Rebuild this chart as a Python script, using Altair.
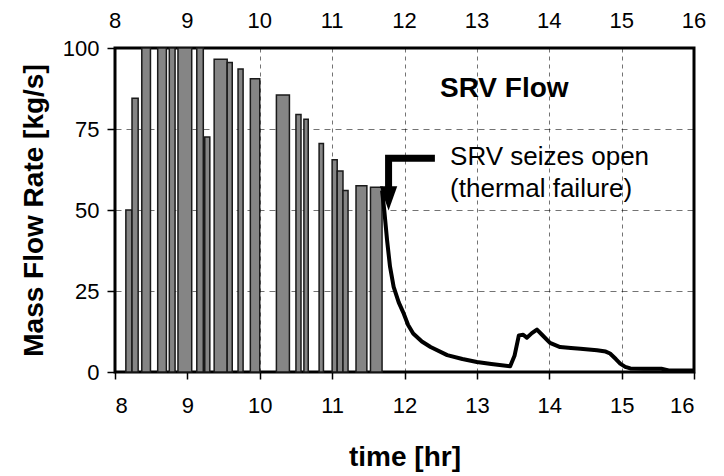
import altair as alt
import pandas as pd

# SRV cycling pulses (time in hr, flow in kg/s)
pulse_start = [8.15, 8.235, 8.37, 8.59, 8.75, 8.87, 9.13, 9.24, 9.37, 9.55, 9.70, 9.87,
               10.23, 10.50, 10.61, 10.82, 11.00, 11.07, 11.15, 11.33, 11.53]
pulse_end = [8.235, 8.32, 8.49, 8.71, 8.83, 9.06, 9.22, 9.31, 9.55, 9.62, 9.77, 10.0,
             10.41, 10.57, 10.67, 10.88, 11.07, 11.15, 11.22, 11.48, 11.69]
pulse_peak = [50, 84.5, 100, 100, 100, 100, 100, 72.5, 96.5, 95.5, 93.5, 90.5,
              85.5, 79.5, 78, 70.5, 65.5, 62, 56, 57.5, 57]

# SRV seized open: continuous flow
open_t = [11.69, 11.72, 11.76, 11.80, 11.85, 11.92, 11.99, 12.05, 12.12, 12.24, 12.36,
          12.59, 12.8, 13.0, 13.2, 13.46, 13.52, 13.58, 13.64, 13.69, 13.76, 13.83, 13.9,
          14.01, 14.15, 14.3, 14.43, 14.66, 14.78, 14.84, 14.92, 14.98, 15.05, 15.12,
          15.3, 15.55, 15.65, 16.0]
open_flow = [56, 50, 40.5, 32.5, 26.3, 21.5, 18, 14.5, 11.9, 9.4, 7.7,
             5.2, 4.0, 3.1, 2.5, 1.8, 5, 11.3, 11.5, 10.6, 12, 13.1, 11.5,
             9, 7.7, 7.4, 7.2, 6.7, 6.3, 5.7, 4, 2.6, 1.6, 1.1,
             1.0, 1.0, 0.5, 0.5]

# annotation arrow path
arrow_t = [12.42, 11.78, 11.78]
arrow_flow = [66, 66, 57]

x_ticks = [8, 9, 10, 11, 12, 13, 14, 15, 16]
y_ticks = [0, 25, 50, 75, 100]

FONT = "Liberation Sans"

pulses = pd.DataFrame({"start": pulse_start, "end": pulse_end, "peak": pulse_peak})
curve = pd.DataFrame({"t": open_t, "flow": open_flow, "o": list(range(len(open_t)))})
arrow = pd.DataFrame({"t": arrow_t, "flow": arrow_flow, "o": [0, 1, 2]})
top_lab = pd.DataFrame({"t": x_ticks})
one = pd.DataFrame({"a": [0]})

xscale = alt.Scale(domain=[8, 16], nice=False, zero=False)
yscale = alt.Scale(domain=[0, 100], nice=False)

bottom_axis = alt.Axis(
    orient="bottom", values=x_ticks, format="d", title="time [hr]",
    labelFontSize=22, labelFont=FONT, labelColor="black", labelPadding=16,
    tickSize=7, tickColor="black", tickWidth=1.5, domain=False,
    grid=True, gridColor="black", gridDash=[4, 4], gridOpacity=0.55, gridWidth=1,
    titleFontSize=28, titleFont=FONT, titleFontWeight="bold", titleColor="black",
    titlePadding=27,
)
left_axis = alt.Axis(
    orient="left", values=y_ticks, format="d", title="Mass Flow Rate [kg/s]",
    labelFontSize=22, labelFont=FONT, labelColor="black", labelPadding=8,
    tickSize=8, tickColor="black", tickWidth=1.5, domain=False,
    grid=True, gridColor="black", gridDash=[6, 5], gridOpacity=0.55, gridWidth=1,
    titleFontSize=28, titleFont=FONT, titleFontWeight="bold", titleColor="black",
    titlePadding=14,
)

bars = alt.Chart(pulses).mark_rect(
    fill="#858585", stroke="#1a1a1a", strokeWidth=1.5
).encode(
    x=alt.X("start:Q", scale=xscale, axis=bottom_axis),
    x2="end:Q",
    y=alt.Y("peak:Q", scale=yscale, axis=left_axis),
    y2=alt.datum(0),
)

line = alt.Chart(curve).mark_line(color="black", strokeWidth=4, strokeJoin="round").encode(
    x=alt.X("t:Q", scale=xscale),
    y=alt.Y("flow:Q", scale=yscale),
    order="o:Q",
)

arrow_line = alt.Chart(arrow).mark_line(
    color="black", strokeWidth=7, strokeJoin="miter", strokeCap="butt"
).encode(
    x=alt.X("t:Q", scale=xscale),
    y=alt.Y("flow:Q", scale=yscale),
    order="o:Q",
)

arrow_head = alt.Chart(one).mark_point(
    shape="M-1,-1.4L1,-1.4L0,1.4Z", size=300, filled=True, color="black", opacity=1
).encode(
    x=alt.X(datum=11.78, scale=xscale),
    y=alt.Y(datum=53.6, scale=yscale),
)

top_labels = alt.Chart(top_lab).mark_text(
    align="center", baseline="middle", font=FONT, fontSize=22, color="black"
).encode(
    x=alt.X("t:Q", scale=xscale),
    y=alt.value(-27),
    text=alt.Text("t:Q", format="d"),
)

label1 = alt.Chart(one).mark_text(
    text="SRV seizes open", align="left", baseline="alphabetic",
    font=FONT, fontSize=26, color="black"
).encode(
    x=alt.X(datum=12.63, scale=xscale),
    y=alt.Y(datum=63.9, scale=yscale),
)
label2 = alt.Chart(one).mark_text(
    text="(thermal failure)", align="left", baseline="alphabetic",
    font=FONT, fontSize=26, color="black"
).encode(
    x=alt.X(datum=12.63, scale=xscale),
    y=alt.Y(datum=53.9, scale=yscale),
)
title_in = alt.Chart(one).mark_text(
    text="SRV Flow", align="left", baseline="alphabetic",
    font=FONT, fontSize=28, fontWeight="bold", color="black"
).encode(
    x=alt.X(datum=12.49, scale=xscale),
    y=alt.Y(datum=85.0, scale=yscale),
)

chart = alt.layer(
    bars, line, arrow_line, arrow_head, top_labels, label1, label2, title_in
).properties(
    width=579, height=324,
    autosize=alt.AutoSizeParams(type="none"),
    padding={"left": 115, "top": 48, "right": 30, "bottom": 104},
    background="white",
).configure_view(stroke="black", strokeWidth=3)

chart.save("out.html", embed_options={"renderer": "svg", "actions": False})
